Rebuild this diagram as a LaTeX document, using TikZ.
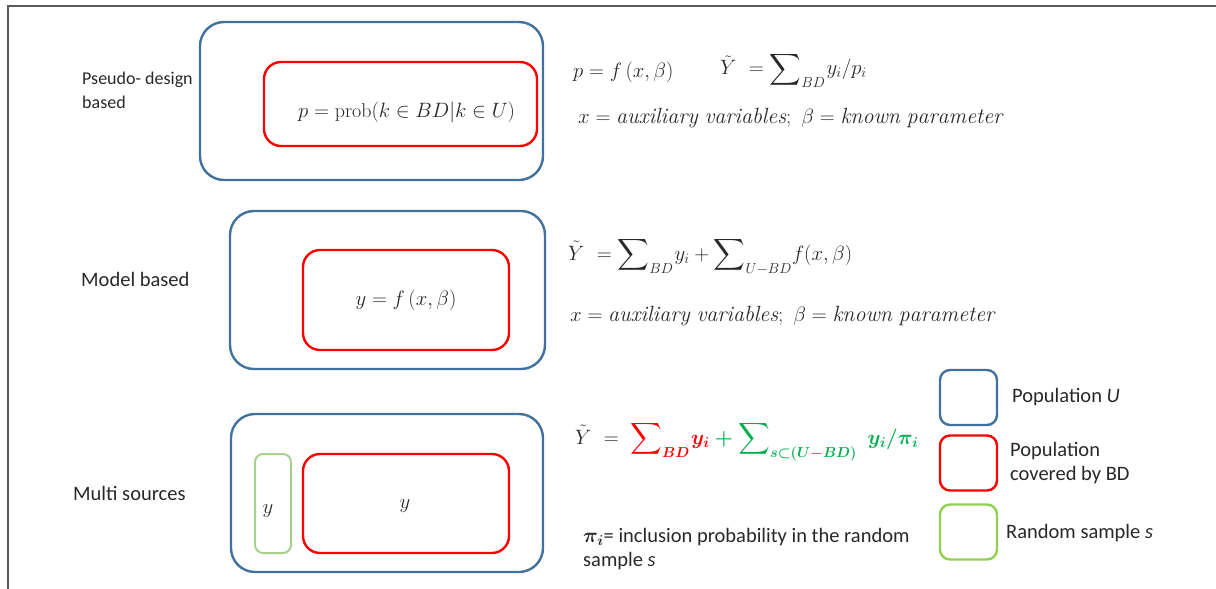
\documentclass[tikz,border=0pt]{standalone}
\usepackage{amsmath}
\usepackage{amssymb}
\usepackage{mathtools}
\usepackage{bm}
\usepackage{fontspec}
\setsansfont{Carlito}
\definecolor{popblue}{RGB}{65,113,156}
\definecolor{bdred}{RGB}{255,0,0}
\definecolor{sampgreen}{RGB}{146,208,80}
\definecolor{lightsamp}{RGB}{169,209,142}
\definecolor{formgreen}{RGB}{0,176,80}
\definecolor{framegray}{RGB}{89,89,89}
\definecolor{txt}{RGB}{40,40,40}
\newcommand{\boldpart}{\mbox{\boldmath$\displaystyle\color{bdred}\sum\nolimits_{BD}\mkern-2mu y_i\color{formgreen}+\sum\nolimits_{s\subset(U-BD)}\mkern5mu y_i/\pi_i$}}
\tikzset{
  box/.style={draw, rectangle, inner sep=0pt, line width=2.4pt},
  popbox/.style={box, draw=popblue, rounded corners=24pt},
  bdbox/.style={box, draw=bdred, rounded corners=17pt},
  sampbox/.style={box, draw=lightsamp, line width=2pt, rounded corners=8pt},
  legbox/.style={box, rounded corners=10pt, minimum width=57pt, minimum height=55pt},
  lbl/.style={font=\sffamily\fontsize{20.5}{24}\selectfont, text=txt, anchor=west, align=left, inner sep=0pt},
  frm/.style={font=\fontsize{20}{24}\selectfont, text=txt, anchor=west, inner sep=0pt},
  bigfrm/.style={frm, font=\fontsize{22}{26}\selectfont},
}
\begin{document}
\begin{tikzpicture}[x=1pt,y=-1pt]
\useasboundingbox (0,0) rectangle (1216,589);
\draw[framegray, line width=2pt] (8,589) -- (8,5.5) -- (1216,5.5);

% row 1
\node[popbox, minimum width=343pt, minimum height=158pt] (u1) at (371.5,101) {};
\node[bdbox, minimum width=273pt, minimum height=84pt] (bd1) at (400.5,104) {};
\node[frm] (t1) at (298,112) {$p=\mathrm{prob}(k\in BD|k\in U)$};
\node[lbl, font=\sffamily\fontsize{18}{24}\selectfont] (l1) at (82,90) {Pseudo- design\\based};
\node[frm] (f1a) at (573,72) {$p=f\,(x,\beta)$};
\node[bigfrm] (f1b) at (720,70) {$\tilde{Y}\ =\displaystyle\sum\nolimits_{BD}\mkern-2mu y_i/p_i$};
\node[bigfrm] (f1c) at (578,118) {$x=\mathit{auxiliary\ variables};\ \beta=\mathit{known\ parameter}$};

% row 2
\node[popbox, minimum width=315pt, minimum height=158pt] (u2) at (387.5,290) {};
\node[bdbox, minimum width=206pt, minimum height=100pt] (bd2) at (406,300) {};
\node[frm, anchor=center] (t2) at (406,300) {$y=f\,(x,\beta)$};
\node[lbl] (l2) at (81,279) {Model based};
\node[bigfrm] (f2a) at (568,256) {$\tilde{Y}\ =\displaystyle\sum\nolimits_{BD}\mkern-2mu y_i+\sum\nolimits_{U-BD}\mkern-3mu f(x,\beta)$};
\node[bigfrm] (f2c) at (570,316) {$x=\mathit{auxiliary\ variables};\ \beta=\mathit{known\ parameter}$};

% row 3
\node[popbox, minimum width=312pt, minimum height=158pt] (u3) at (387,493) {};
\node[sampbox, minimum width=36pt, minimum height=99pt] (s3) at (273,503.5) {};
\node[bdbox, minimum width=206pt, minimum height=99pt] (bd3) at (406,503.5) {};
\node[frm, anchor=center] (y1) at (268,511) {$y$};
\node[frm, anchor=center] (y2) at (405,506) {$y$};
\node[lbl] (l3) at (73,493) {Multi sources};
\node[bigfrm] (f3a) at (575,441) {$\tilde{Y}\ =\mkern5mu\boldpart$};
\node[lbl] (f3c) at (583,549) {$\bm{\pi_i}$= inclusion probability in the random\\sample \textit{s}};

% legend
\node[legbox, draw=popblue] (lg1) at (968.5,397.5) {};
\node[legbox, draw=bdred] (lg2) at (968.5,463) {};
\node[legbox, draw=sampgreen] (lg3) at (968.5,532) {};
\node[lbl] (lt1) at (1012,397) {Population \textit{U}};
\node[lbl] (lt2) at (1010,463) {Population\\covered by BD};
\node[lbl] (lt3) at (1006,533) {Random sample \textit{s}};
\end{tikzpicture}
\end{document}
